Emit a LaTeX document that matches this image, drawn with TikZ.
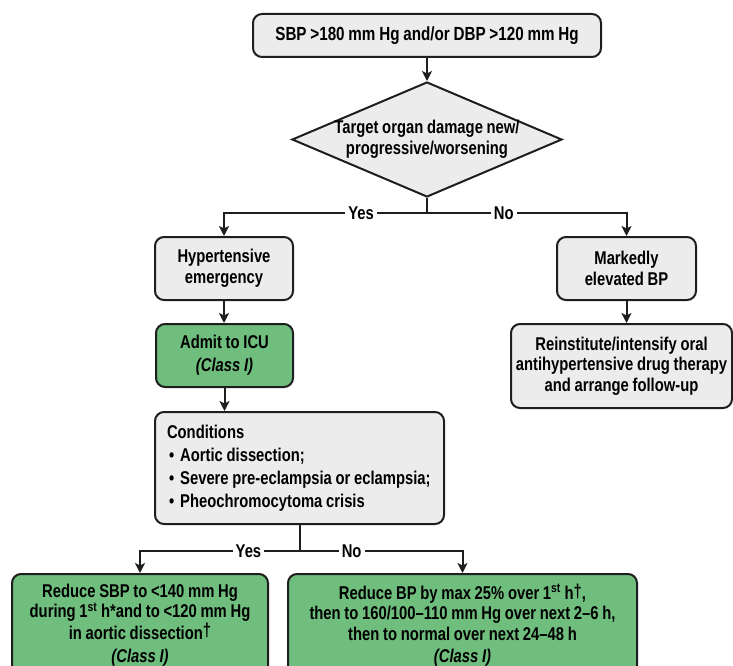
\documentclass[tikz,border=0pt]{standalone}
\usepackage{fontspec}
\setmainfont[FakeStretch=0.8,WordSpace=0.9]{Liberation Sans}
\usetikzlibrary{shapes.geometric,arrows.meta}
\definecolor{boxgray}{RGB}{236,236,236}
\definecolor{boxgreen}{RGB}{111,190,126}
\definecolor{edge}{RGB}{30,30,30}
\begin{document}
\begin{tikzpicture}[x=1pt,y=-1pt,
  every node/.style={font=\bfseries\fontsize{18.5}{20.5}\selectfont, text=black},
  gbox/.style={draw=edge, line width=2pt, rounded corners=9pt, fill=boxgray, align=center, inner sep=0pt},
  greenbox/.style={gbox, fill=boxgreen},
  dia/.style={draw=edge, line width=2pt, fill=boxgray, shape=diamond, inner sep=0pt},
  conn/.style={draw=edge, line width=2pt},
  arr/.style={conn, -{Stealth[length=10pt,width=10pt,inset=2.5pt]}},
  lbl/.style={fill=white, inner xsep=3pt, inner ysep=1pt}]
\useasboundingbox (0,0) rectangle (733,666);
\begin{scope}
\clip (0,0) rectangle (733,666);

\node[gbox, minimum width=348pt, minimum height=43pt, font=\bfseries\fontsize{19}{21}\selectfont] (top) at (427,35.5) {SBP >180 mm Hg and/or DBP >120 mm Hg};

\node[dia, minimum width=270pt, minimum height=115pt] (dm) at (427,139.5) {};
\node[align=center, inner sep=0pt] (dmtext) at (dm.center) {Target organ damage new/\\progressive/worsening};

\node[gbox, minimum width=138pt, minimum height=63pt] (hyp) at (224,268.5) {Hypertensive\\emergency};
\node[gbox, minimum width=139pt, minimum height=63pt] (mark) at (626.5,268.5) {Markedly\\elevated BP};

\node[greenbox, minimum width=137pt, minimum height=63pt, font=\bfseries\fontsize{18.5}{23}\selectfont] (admit) at (224.5,355.5) {Admit to ICU\\\textit{(Class I)}};

\node[gbox, minimum width=221pt, minimum height=84pt] (rein) at (621.5,366) {Reinstitute/intensify oral\\antihypertensive drug therapy\\and arrange follow-up};

\node[gbox, minimum width=289pt, minimum height=112pt, text width=277pt, align=flush left, font=\bfseries\fontsize{18.5}{23}\selectfont] (cond) at (299.5,468) {\hspace*{6pt}Conditions\\\hspace*{8pt}\textbullet\hspace{6pt}Aortic dissection;\\\hspace*{8pt}\textbullet\hspace{6pt}Severe pre-eclampsia or eclampsia;\\\hspace*{8pt}\textbullet\hspace{6pt}Pheochromocytoma crisis};

\node[greenbox, minimum width=256pt, minimum height=102pt] (red1) at (140,625) {Reduce SBP to <140 mm Hg\\during 1\textsuperscript{st} h*and to <120 mm Hg\\in aortic dissection\raisebox{0.35ex}{†}\\[2pt]\textit{(Class I)}};
\node[greenbox, minimum width=349pt, minimum height=102pt] (red2) at (462.5,625) {Reduce BP by max 25\% over 1\textsuperscript{st} h\raisebox{0.2ex}{†},\\then to 160/100–110 mm Hg over next 2–6 h,\\then to normal over next 24–48 h\\[2pt]\textit{(Class I)}};

\coordinate (j1) at (427,213);
\coordinate (j2) at (299.5,551);

\draw[arr] (top.south) -- (dm.north);
\draw[conn] (dm.south) -- (j1);
\draw[arr] (j1) -- node[lbl, pos=0.325]{Yes} (j1 -| hyp.north) -- (hyp.north);
\draw[arr] (j1) -- node[lbl, pos=0.385]{No} (j1 -| mark.north) -- (mark.north);
\draw[arr] (hyp.south) -- (hyp.south |- admit.north);
\draw[arr] (admit.south) -- (admit.south |- cond.north);
\draw[arr] (mark.south) -- (mark.south |- rein.north);
\draw[conn] (cond.south) -- (j2);
\draw[arr] (j2) -- node[lbl, pos=0.32]{Yes} (j2 -| red1.north) -- (red1.north);
\draw[arr] (j2) -- node[lbl, pos=0.32]{No} (j2 -| red2.north) -- (red2.north);
\end{scope}
\end{tikzpicture}
\end{document}
